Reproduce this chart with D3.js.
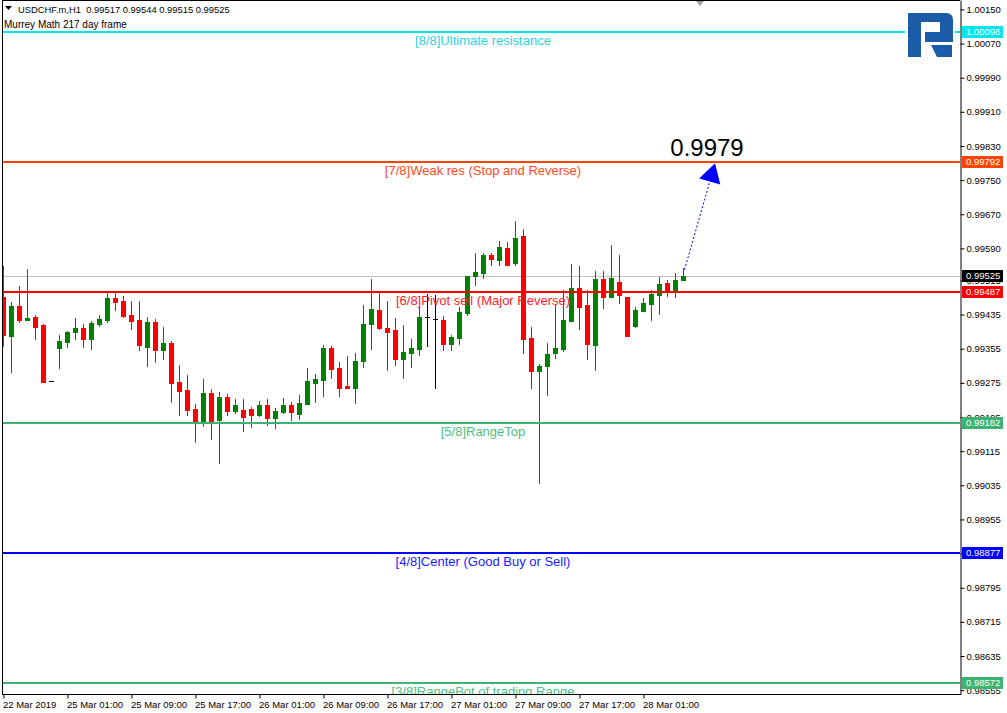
<!DOCTYPE html>
<html><head><meta charset="utf-8">
<script src="https://cdn.jsdelivr.net/npm/d3@7"></script>
<style>html,body{margin:0;padding:0;background:#fff;overflow:hidden}svg{display:block}text{font-family:"Liberation Sans",Arial,sans-serif}</style>
</head><body><svg id="c" width="1007" height="713"></svg>
<script>
// ---------- data ----------
const symbol = "USDCHF.m,H1";
const indicatorName = "Murrey Math 217 day frame";
const lastOHLC = [0.99517, 0.99544, 0.99515, 0.99525];

const opens = [0.99477,0.99385,0.99455,0.99423,0.99430,0.99411,0.99280,0.99357,0.99371,0.99394,
0.99404,0.99378,0.99413,0.99423,0.99474,0.99467,0.99434,0.99423,0.99359,0.99418,
0.99352,0.99369,0.99277,0.99259,0.99214,0.99184,0.99252,0.99188,0.99242,0.99209,
0.99212,0.99214,0.99200,0.99223,0.99193,0.99207,0.99223,0.99202,0.99226,0.99275,
0.99282,0.99357,0.99310,0.99268,0.99263,0.99327,0.99413,0.99446,0.99404,0.99399,
0.99331,0.99345,0.99355,0.99430,0.99425,0.99423,0.99366,0.99380,0.99439,0.99526,
0.99533,0.99575,0.99563,0.99591,0.99556,0.99619,0.99380,0.99303,0.99315,0.99345,
0.99355,0.99420,0.99498,0.99458,0.99364,0.99519,0.99477,0.99512,0.99477,0.99409,
0.99444,0.99460,0.99481,0.99509,0.99488,0.99517];
const highs = [0.99549,0.99465,0.99502,0.99542,0.99434,0.99413,0.99280,0.99387,0.99397,0.99427,
0.99413,0.99420,0.99434,0.99486,0.99486,0.99479,0.99467,0.99467,0.99430,0.99425,
0.99406,0.99373,0.99317,0.99294,0.99226,0.99284,0.99261,0.99254,0.99249,0.99238,
0.99238,0.99219,0.99233,0.99238,0.99216,0.99240,0.99230,0.99247,0.99310,0.99296,
0.99364,0.99362,0.99324,0.99338,0.99345,0.99458,0.99519,0.99488,0.99467,0.99427,
0.99411,0.99378,0.99453,0.99484,0.99481,0.99432,0.99387,0.99453,0.99526,0.99580,
0.99580,0.99580,0.99608,0.99605,0.99655,0.99636,0.99406,0.99320,0.99369,0.99458,
0.99493,0.99554,0.99549,0.99493,0.99537,0.99537,0.99598,0.99575,0.99477,0.99453,
0.99474,0.99493,0.99523,0.99516,0.99533,0.99544];
const lows = [0.99362,0.99301,0.99418,0.99423,0.99378,0.99277,0.99280,0.99310,0.99359,0.99378,
0.99359,0.99355,0.99409,0.99418,0.99446,0.99430,0.99402,0.99352,0.99315,0.99324,
0.99331,0.99230,0.99200,0.99200,0.99137,0.99174,0.99144,0.99088,0.99200,0.99205,
0.99163,0.99172,0.99198,0.99177,0.99170,0.99205,0.99188,0.99191,0.99226,0.99230,
0.99245,0.99287,0.99245,0.99263,0.99228,0.99312,0.99355,0.99402,0.99305,0.99317,
0.99287,0.99312,0.99341,0.99362,0.99263,0.99352,0.99352,0.99366,0.99434,0.99505,
0.99521,0.99551,0.99551,0.99551,0.99551,0.99345,0.99263,0.99041,0.99247,0.99334,
0.99350,0.99420,0.99402,0.99331,0.99305,0.99451,0.99477,0.99462,0.99385,0.99406,
0.99444,0.99423,0.99437,0.99479,0.99477,0.99515];
const closes = [0.99387,0.99455,0.99423,0.99427,0.99406,0.99277,0.99280,0.99373,0.99394,0.99404,
0.99378,0.99416,0.99425,0.99474,0.99465,0.99432,0.99420,0.99364,0.99418,0.99352,
0.99369,0.99275,0.99256,0.99212,0.99184,0.99252,0.99186,0.99242,0.99209,0.99223,
0.99195,0.99200,0.99223,0.99193,0.99209,0.99223,0.99207,0.99228,0.99280,0.99284,
0.99357,0.99308,0.99263,0.99263,0.99327,0.99413,0.99448,0.99404,0.99394,0.99331,
0.99348,0.99357,0.99430,0.99430,0.99425,0.99366,0.99383,0.99441,0.99526,0.99535,
0.99575,0.99566,0.99594,0.99551,0.99615,0.99378,0.99303,0.99315,0.99343,0.99357,
0.99423,0.99498,0.99453,0.99366,0.99519,0.99477,0.99521,0.99481,0.99385,0.99446,
0.99462,0.99484,0.99507,0.99488,0.99516,0.99525];

const levelNames  = ["[8/8]Ultimate resistance","[7/8]Weak res (Stop and Reverse)","[6/8]Pivot sell (Major Reverse)","[5/8]RangeTop","[4/8]Center (Good Buy or Sell)","[3/8]RangeBot of trading Range"];
const levelValues = [1.00098, 0.99792, 0.99487, 0.99182, 0.98877, 0.98572];
const levelColors = ["#00E5EE","#FF4500","#FF0000","#3CB371","#0000FF","#3CB371"];
const levelTextColors = ["#2CD3E3","#FF4A1A","#FF1A2A","#4CBF80","#1A1AFF","#4CBF80"];

const priceTicks = [1.00150,1.00070,0.99990,0.99910,0.99830,0.99750,0.99670,0.99590,0.99515,0.99435,0.99355,0.99275,0.99195,0.99115,0.99035,0.98955,0.98875,0.98795,0.98715,0.98635,0.98555];
const timeTickIndex  = [0,8,16,24,32,40,48,56,64,72,80];
const timeTickLabels = ["22 Mar 2019","25 Mar 01:00","25 Mar 09:00","25 Mar 17:00","26 Mar 01:00","26 Mar 09:00","26 Mar 17:00","27 Mar 01:00","27 Mar 09:00","27 Mar 17:00","28 Mar 01:00"];

const forecastLabel = "0.9979";
const forecastFrom = {i: 85, v: 0.99540};
const forecastTo   = {i: 89, v: 0.99792};

// ---------- layout ----------
const plotL = 2, plotR = 960, plotT = 0, plotB = 694;
const svg = d3.select("#c");
const x = d3.scaleLinear().domain([0, 120]).range([3.5, 963.5]);
const y = d3.scaleLinear().domain([0.98546, 1.00172]).range([plotB, plotT]);
const cy = v => Math.round(y(v));

const bars = opens.map((o, i) => ({i, o, h: highs[i], l: lows[i], c: closes[i]}));

svg.append("rect").attr("width", 1007).attr("height", 713).attr("fill", "#fff");
svg.append("defs").append("clipPath").attr("id", "clip")
  .append("rect").attr("x", plotL).attr("y", plotT).attr("width", plotR - plotL).attr("height", plotB - plotT);

const g = svg.append("g").attr("clip-path", "url(#clip)");

// current price line
const lastClose = closes[closes.length - 1];
g.append("line").attr("x1", plotL).attr("x2", plotR)
  .attr("y1", cy(lastClose) + 0.5).attr("y2", cy(lastClose) + 0.5)
  .attr("stroke", "#C0C0C0").attr("stroke-width", 1);

// candles
const colorOf = d => d.c > d.o ? "#008000" : (d.c < d.o ? "#FF0000" : "#000000");
const cg = g.append("g");
cg.selectAll("line.wick").data(bars).join("line").attr("class", "wick")
  .attr("x1", d => x(d.i)).attr("x2", d => x(d.i))
  .attr("y1", d => cy(d.h)).attr("y2", d => cy(d.l) + 1)
  .attr("stroke", colorOf).attr("stroke-width", 1);
cg.selectAll("rect.body").data(bars.filter(d => d.c !== d.o)).join("rect").attr("class", "body")
  .attr("x", d => x(d.i) - 2.5)
  .attr("y", d => cy(Math.max(d.o, d.c)))
  .attr("width", 5)
  .attr("height", d => Math.max(1, cy(Math.min(d.o, d.c)) - cy(Math.max(d.o, d.c)) + 1))
  .attr("fill", colorOf);
cg.selectAll("line.doji").data(bars.filter(d => d.c === d.o)).join("line").attr("class", "doji")
  .attr("x1", d => x(d.i) - 2.5).attr("x2", d => x(d.i) + 2.5)
  .attr("y1", d => cy(d.o) + 0.5).attr("y2", d => cy(d.o) + 0.5)
  .attr("stroke", "#000").attr("stroke-width", 1);

// Murrey levels
const levels = levelValues.map((v, k) => ({v, name: levelNames[k], color: levelColors[k], tc: levelTextColors[k]}));
g.selectAll("line.level").data(levels).join("line").attr("class", "level")
  .attr("x1", plotL).attr("x2", plotR)
  .attr("y1", d => cy(d.v)).attr("y2", d => cy(d.v))
  .attr("stroke", d => d.color).attr("stroke-width", 2);
g.selectAll("text.level").data(levels).join("text").attr("class", "level")
  .attr("x", 483).attr("y", d => cy(d.v) + 13)
  .attr("text-anchor", "middle").attr("font-size", 13)
  .attr("fill", d => d.tc).text(d => d.name);

// forecast arrow
const ax1 = x(forecastFrom.i) + 1, ay1 = y(forecastFrom.v);
const ax2 = x(forecastTo.i) - 0.5, ay2 = y(forecastTo.v) + 1;
const ang = Math.atan2(ay2 - ay1, ax2 - ax1);
const headLen = 19, headW = 11;
const bx = ax2 - headLen * Math.cos(ang), by = ay2 - headLen * Math.sin(ang);
g.append("line").attr("x1", ax1).attr("y1", ay1).attr("x2", bx).attr("y2", by)
  .attr("stroke", "#0000FF").attr("stroke-width", 1).attr("stroke-dasharray", "2,2");
g.append("path")
  .attr("d", `M${ax2},${ay2} L${bx + headW * Math.sin(ang)},${by - headW * Math.cos(ang)} L${bx - headW * Math.sin(ang)},${by + headW * Math.cos(ang)} Z`)
  .attr("fill", "#0000FF");
svg.append("text").attr("x", x(forecastTo.i) - 8.5).attr("y", y(forecastTo.v) - 6)
  .attr("text-anchor", "middle").attr("font-size", 24).attr("fill", "#000").text(forecastLabel);

// frame
svg.append("line").attr("x1", plotL + 0.5).attr("x2", plotL + 0.5).attr("y1", 0).attr("y2", plotB).attr("stroke", "#000");
svg.append("line").attr("x1", plotL).attr("x2", plotR).attr("y1", 0.5).attr("y2", 0.5).attr("stroke", "#000");

// right price axis
const yAxis = d3.axisRight(y).tickValues(priceTicks).tickFormat(d3.format(".5f")).tickSize(4).tickSizeOuter(0);
const ya = svg.append("g").attr("transform", `translate(${plotR + 0.5},0)`).call(yAxis);
ya.select(".domain").attr("stroke", "#000");
ya.selectAll(".tick line").attr("stroke", "#000");
ya.selectAll(".tick text").attr("font-family", '"Liberation Sans",Arial,sans-serif').attr("font-size", 9.5).attr("fill", "#000").attr("x", 6);

// bottom time axis
const xAxis = d3.axisBottom(x).tickValues(timeTickIndex).tickFormat((d, k) => timeTickLabels[k]).tickSize(4).tickSizeOuter(0);
const xa = svg.append("g").attr("transform", `translate(0,${plotB + 0.5})`).call(xAxis);
xa.select(".domain").remove();
xa.selectAll(".tick line").attr("stroke", "#000");
xa.selectAll(".tick text").attr("font-family", '"Liberation Sans",Arial,sans-serif').attr("font-size", 9.5).attr("fill", "#000")
  .attr("text-anchor", "start").attr("x", -1).attr("y", 7);
svg.append("line").attr("x1", plotL).attr("x2", plotR + 1).attr("y1", plotB + 0.5).attr("y2", plotB + 0.5).attr("stroke", "#000");

// price tags
const tags = levels.map(d => ({v: d.v, color: d.color})).concat([{v: lastClose, color: "#000000"}]);
const tg = svg.append("g").selectAll("g").data(tags).join("g")
  .attr("transform", d => `translate(${plotR + 2},${cy(d.v)})`);
tg.append("rect").attr("x", 0).attr("y", -6).attr("width", 41).attr("height", 12).attr("fill", d => d.color);
tg.append("text").attr("x", 4).attr("y", 0).attr("dy", "0.35em").attr("font-size", 9.5).attr("fill", "#fff")
  .text(d => d3.format(".5f")(d.v));

// header
svg.append("path").attr("d", "M5,6 L12,6 L8.5,10 Z").attr("fill", "#000");
svg.append("text").attr("x", 18).attr("y", 12.5).attr("font-size", 9.4).attr("fill", "#000")
  .style("white-space", "pre")
  .text(symbol + "  " + lastOHLC.map(d3.format(".5f")).join(" "));
svg.append("text").attr("x", 4).attr("y", 28).attr("font-size", 10).attr("fill", "#000").text(indicatorName);

// chart shift marker
svg.append("path").attr("d", "M696,1 L704,1 L700,6 Z").attr("fill", "#A0A0A0");

// logo
const logo = svg.append("g");
logo.append("rect").attr("x", 905).attr("y", 8).attr("width", 50).attr("height", 54).attr("fill", "#fff");
logo.append("path").attr("d", "M908,13 H946 Q953,13 953,20 V42 H925 V32 H940 V22 H921 V57 H908 Z").attr("fill", "#1B5CA8");
logo.append("path").attr("d", "M931,45 H952 V57 H937 Z").attr("fill", "#1B5CA8");
</script>
</body></html>
